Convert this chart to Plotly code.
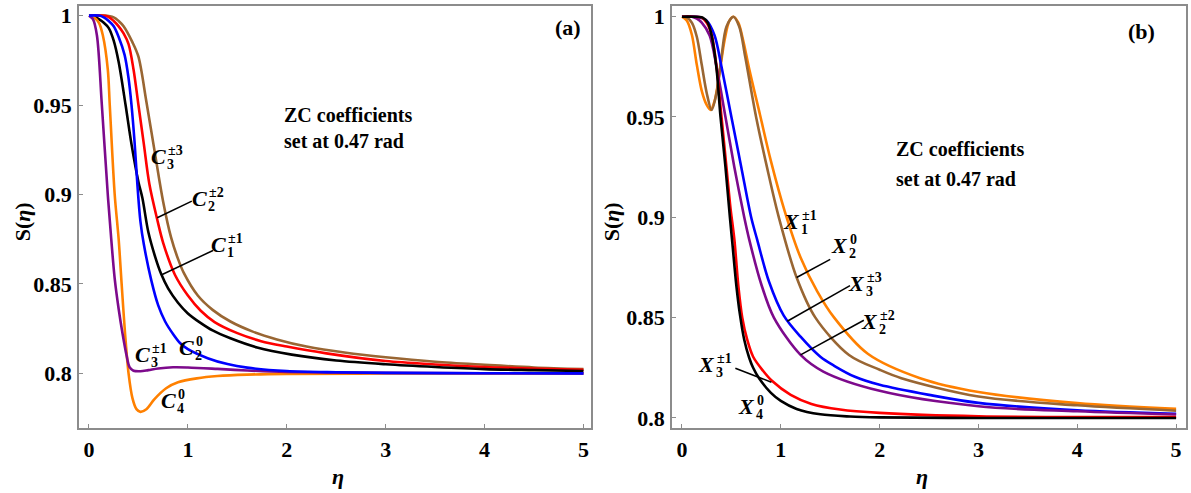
import plotly.graph_objects as go

# ---------------- Panel (a) data ----------------
eta_a_purple = [0, 0.04, 0.08, 0.13, 0.19, 0.225, 0.26, 0.30, 0.34, 0.38, 0.41, 0.45, 0.52, 0.6, 0.7, 0.85, 1.0, 1.3, 1.6, 2.0, 3.0, 4.0, 5.0]
s_a_purple   = [1, 0.998, 0.989, 0.95, 0.90, 0.875, 0.853, 0.836, 0.822, 0.81, 0.8035, 0.8015, 0.8012, 0.8018, 0.8027, 0.8034, 0.8033, 0.8025, 0.8016, 0.8008, 0.8003, 0.8001, 0.8]

eta_a_orange = [0, 0.05, 0.1, 0.14, 0.19, 0.21, 0.26, 0.30, 0.33, 0.365, 0.40, 0.44, 0.48, 0.52, 0.58, 0.66, 0.78, 0.9, 1.09, 1.3, 1.6, 2.0, 3.0, 5.0]
s_a_orange   = [1, 0.999, 0.996, 0.989, 0.97, 0.95, 0.90, 0.875, 0.85, 0.822, 0.80, 0.786, 0.780, 0.7785, 0.780, 0.7855, 0.7917, 0.795, 0.7972, 0.7985, 0.7993, 0.7997, 0.7999, 0.8]

eta_a_black = [0, 0.05, 0.1, 0.15, 0.2, 0.25, 0.3, 0.37, 0.43, 0.5, 0.54, 0.6, 0.67, 0.73, 0.8, 0.9, 1.0, 1.12, 1.25, 1.43, 1.7, 2.05, 2.5, 3.0, 3.5, 4.0, 4.5, 5.0]
s_a_black   = [1, 0.9995, 0.998, 0.996, 0.993, 0.986, 0.974, 0.95, 0.928, 0.907, 0.898, 0.879, 0.865, 0.8555, 0.8475, 0.8395, 0.8335, 0.8285, 0.824, 0.8196, 0.8145, 0.8105, 0.8072, 0.8051, 0.8036, 0.8024, 0.8018, 0.8013]

eta_a_blue = [0, 0.1, 0.15, 0.2, 0.25, 0.30, 0.36, 0.40, 0.43, 0.46, 0.49, 0.52, 0.555, 0.63, 0.7, 0.77, 0.85, 0.92, 1.0, 1.2, 1.4, 1.6, 2.0, 2.5, 3.0, 4.0, 5.0]
s_a_blue   = [1, 1, 0.999, 0.997, 0.994, 0.988, 0.978, 0.965, 0.95, 0.93, 0.905, 0.885, 0.872, 0.852, 0.838, 0.829, 0.822, 0.817, 0.8135, 0.8085, 0.8052, 0.8032, 0.8013, 0.8006, 0.8003, 0.8001, 0.8]

eta_a_red = [0, 0.1, 0.19, 0.25, 0.30, 0.35, 0.40, 0.45, 0.50, 0.555, 0.61, 0.69, 0.75, 0.87, 1.0, 1.13, 1.27, 1.5, 1.74, 2.0, 2.4, 3.0, 3.5, 4.0, 5.0]
s_a_red   = [1, 1, 0.9995, 0.997, 0.994, 0.99, 0.984, 0.97, 0.95, 0.928, 0.906, 0.886, 0.873, 0.855, 0.8435, 0.835, 0.8287, 0.8225, 0.818, 0.815, 0.8112, 0.8069, 0.805, 0.8036, 0.802]

eta_a_brown = [0, 0.15, 0.25, 0.30, 0.35, 0.44, 0.5, 0.58, 0.67, 0.75, 0.83, 0.9, 0.96, 1.1, 1.25, 1.43, 1.65, 1.9, 2.2, 2.6, 3.0, 3.5, 4.0, 4.5, 5.0]
s_a_brown   = [1, 1, 0.999, 0.997, 0.994, 0.985, 0.977, 0.952, 0.922, 0.896, 0.876, 0.864, 0.856, 0.8435, 0.8355, 0.829, 0.8235, 0.819, 0.815, 0.8115, 0.809, 0.8065, 0.8048, 0.8033, 0.8024]

# ---------------- Panel (b) data ----------------
eta_b_orange = [0, 0.05, 0.1, 0.15, 0.2, 0.25, 0.29, 0.33, 0.38, 0.43, 0.48, 0.52, 0.57, 0.62, 0.68, 0.79, 0.9, 1.04, 1.2, 1.37, 1.54, 1.88, 2.41, 3.0, 4.0, 5.0]
s_b_orange   = [1, 0.998, 0.991, 0.976, 0.963, 0.956, 0.9535, 0.958, 0.972, 0.988, 0.998, 1.0, 0.997, 0.988, 0.974, 0.951, 0.928, 0.903, 0.88, 0.863, 0.85, 0.832, 0.8198, 0.8129, 0.8074, 0.8045]

eta_b_brown = [0, 0.05, 0.1, 0.15, 0.2, 0.25, 0.3, 0.35, 0.4, 0.45, 0.52, 0.58, 0.64, 0.75, 0.86, 0.98, 1.16, 1.35, 1.69, 2.0, 2.22, 3.0, 4.0, 5.0]
s_b_brown   = [1, 0.9995, 0.997, 0.99, 0.976, 0.962, 0.9535, 0.962, 0.98, 0.995, 1.0, 0.995, 0.98, 0.95, 0.925, 0.9, 0.870, 0.85, 0.8314, 0.824, 0.8198, 0.8107, 0.8063, 0.8036]

eta_b_blue = [0, 0.15, 0.25, 0.33, 0.4, 0.5, 0.6, 0.70, 0.76, 0.88, 1.03, 1.2, 1.4, 1.54, 1.75, 2.0, 2.5, 3.0, 4.0, 5.0]
s_b_blue   = [1, 1, 0.998, 0.9906, 0.975, 0.95, 0.925, 0.9, 0.889, 0.868, 0.851, 0.8405, 0.8305, 0.826, 0.8205, 0.8165, 0.8115, 0.8075, 0.8038, 0.8021]

eta_b_purple = [0, 0.1, 0.15, 0.2, 0.28, 0.35, 0.44, 0.53, 0.63, 0.68, 0.8, 0.93, 1.2, 1.43, 2.0, 3.0, 4.0, 5.0]
s_b_purple   = [1, 1, 0.999, 0.997, 0.9906, 0.975, 0.95, 0.925, 0.9, 0.889, 0.867, 0.85, 0.8314, 0.8231, 0.8135, 0.8058, 0.8033, 0.8017]

eta_b_red = [0, 0.1, 0.2, 0.25, 0.3, 0.35, 0.40, 0.45, 0.49, 0.53, 0.57, 0.61, 0.66, 0.72, 0.82, 0.91, 1.1, 1.31, 1.6, 2.0, 3.0, 5.0]
s_b_red   = [1, 1, 0.9995, 0.997, 0.991, 0.975, 0.95, 0.925, 0.905, 0.889, 0.866, 0.85, 0.839, 0.8305, 0.8235, 0.8185, 0.8115, 0.807, 0.8042, 0.8025, 0.8008, 0.8005]

eta_b_black = [0, 0.1, 0.21, 0.26, 0.3, 0.35, 0.39, 0.44, 0.485, 0.51, 0.55, 0.585, 0.63, 0.68, 0.72, 0.78, 0.9, 1.0, 1.16, 1.4, 1.7, 2.0, 3.0, 5.0]
s_b_black   = [1, 1, 0.9995, 0.997, 0.9906, 0.9739, 0.95, 0.925, 0.9, 0.887, 0.866, 0.852, 0.839, 0.83, 0.825, 0.8198, 0.8125, 0.8085, 0.8045, 0.8018, 0.8007, 0.8003, 0.8, 0.8]

# ---------------- tick labels ----------------
x_ticks = [0, 1, 2, 3, 4, 5]
y_ticks = [0.8, 0.85, 0.9, 0.95, 1.0]
y_tick_text = ["0.8", "0.85", "0.9", "0.95", "1"]

# curve labels: (letter, sub, sup, x, y)
labels_a = [
    ("C", "3", "±3", 0.80, 0.921),
    ("C", "2", "±2", 1.215, 0.898),
    ("C", "1", "±1", 1.41, 0.872),
    ("C", "3", "±1", 0.635, 0.8105),
    ("C", "2", "0", 1.08, 0.8142),
    ("C", "4", "0", 0.90, 0.785),
]
labels_b = [
    ("X", "1", "±1", 1.21, 0.898),
    ("X", "2", "0", 1.70, 0.886),
    ("X", "3", "±3", 1.875, 0.867),
    ("X", "2", "±2", 2.0, 0.848),
    ("X", "3", "±1", 0.35, 0.8264),
    ("X", "4", "0", 0.76, 0.8058),
]
# leader lines (x0, y0, x1, y1)
leaders_a = [(0.69, 0.887, 1.04, 0.8963), (0.73, 0.855, 1.254, 0.8687)]
leaders_b = [(1.16, 0.870, 1.50, 0.879), (1.065, 0.8482, 1.70, 0.866),
             (1.2, 0.8314, 1.84, 0.8487), (0.54, 0.8248, 0.905, 0.8178)]

PURPLE = "#7d0a8c"
ORANGE = "#ff8000"
BROWN = "#996633"
RED = "#ff0000"
BLUE = "#0000ff"
BLACK = "#000000"
SERIF = "Liberation Serif, Times New Roman, serif"

fig = go.Figure()

def add(x, y, color, xa, ya):
    fig.add_trace(go.Scatter(x=x, y=y, mode="lines", xaxis=xa, yaxis=ya,
                             line=dict(color=color, width=2.6, shape="spline", smoothing=0.9),
                             showlegend=False, hoverinfo="skip"))

add(eta_a_brown, s_a_brown, BROWN, "x", "y")
add(eta_a_red, s_a_red, RED, "x", "y")
add(eta_a_black, s_a_black, BLACK, "x", "y")
add(eta_a_orange, s_a_orange, ORANGE, "x", "y")
add(eta_a_purple, s_a_purple, PURPLE, "x", "y")
add(eta_a_blue, s_a_blue, BLUE, "x", "y")

add(eta_b_orange, s_b_orange, ORANGE, "x2", "y2")
add(eta_b_brown, s_b_brown, BROWN, "x2", "y2")
add(eta_b_blue, s_b_blue, BLUE, "x2", "y2")
add(eta_b_purple, s_b_purple, PURPLE, "x2", "y2")
add(eta_b_red, s_b_red, RED, "x2", "y2")
add(eta_b_black, s_b_black, BLACK, "x2", "y2")

axis_common = dict(showline=True, mirror=True, linecolor="#8c8c8c", linewidth=1.5,
                   showgrid=False, zeroline=False, ticks="inside", ticklen=4,
                   tickcolor="#8c8c8c", tickwidth=1,
                   tickfont=dict(family=SERIF, size=22, color="black", weight="bold"))

ydom = [1 - 430 / 493, 1 - 3.5 / 493]
fig.update_layout(
    width=1191, height=493,
    margin=dict(l=0, r=0, t=0, b=0),
    paper_bgcolor="white", plot_bgcolor="white",
    xaxis=dict(domain=[79 / 1191, 591 / 1191], range=[-0.101, 5.076], tickvals=x_ticks,
               ticklabelstandoff=1, anchor="y", **axis_common),
    yaxis=dict(domain=ydom, range=[0.7696, 1.0051], tickvals=y_ticks, ticktext=y_tick_text,
               ticklabelstandoff=1, anchor="x", **axis_common),
    xaxis2=dict(domain=[672 / 1191, 1186 / 1191], range=[-0.101, 5.1], tickvals=x_ticks,
                ticklabelstandoff=1, anchor="y2", **axis_common),
    yaxis2=dict(domain=ydom, range=[0.7951, 1.0051], tickvals=y_ticks, ticktext=y_tick_text,
                ticklabelstandoff=1, anchor="x2", **axis_common),
)

ann = []

def label(letter, sub, sup, x, y, xr, yr):
    ann.append(dict(x=x, y=y, xref=xr, yref=yr, text="<b><i>%s</i></b>" % letter,
                    showarrow=False, xanchor="right", yanchor="middle",
                    font=dict(family=SERIF, size=22, color="black")))
    ann.append(dict(x=x, y=y, xref=xr, yref=yr, text="<b>%s</b>" % sup, yshift=6, xshift=-2,
                    showarrow=False, xanchor="left", yanchor="middle",
                    font=dict(family=SERIF, size=14, color="black")))
    ann.append(dict(x=x, y=y, xref=xr, yref=yr, text="<b>%s</b>" % sub, yshift=-8, xshift=-3,
                    showarrow=False, xanchor="left", yanchor="middle",
                    font=dict(family=SERIF, size=14, color="black")))

for l in labels_a:
    label(*l, "x", "y")
for l in labels_b:
    label(*l, "x2", "y2")

shapes = []
for (x0, y0, x1, y1) in leaders_a:
    shapes.append(dict(type="line", x0=x0, y0=y0, x1=x1, y1=y1, xref="x", yref="y",
                       line=dict(color="black", width=1.5)))
for (x0, y0, x1, y1) in leaders_b:
    shapes.append(dict(type="line", x0=x0, y0=y0, x1=x1, y1=y1, xref="x2", yref="y2",
                       line=dict(color="black", width=1.5)))

# ZC text
for (xr, yr, x, y1, y2) in [("x", "y", 1.95, 0.9445, 0.930), ("x2", "y2", 2.145, 0.934, 0.919)]:
    ann.append(dict(x=x, y=y1, xref=xr, yref=yr, text="<b>ZC coefficients</b>", showarrow=False,
                    xanchor="left", yanchor="middle", font=dict(family=SERIF, size=20, color="black")))
    ann.append(dict(x=x, y=y2, xref=xr, yref=yr, text="<b>set at 0.47 rad</b>", showarrow=False,
                    xanchor="left", yanchor="middle", font=dict(family=SERIF, size=20, color="black")))

# panel tags
ann.append(dict(x=568 / 1191, y=1 - 25 / 493, xref="paper", yref="paper", text="<b>(a)</b>",
                showarrow=False, xanchor="center", yanchor="middle",
                font=dict(family=SERIF, size=22, color="black")))
ann.append(dict(x=1141 / 1191, y=1 - 29 / 493, xref="paper", yref="paper", text="<b>(b)</b>",
                showarrow=False, xanchor="center", yanchor="middle",
                font=dict(family=SERIF, size=22, color="black")))

# axis titles
for px in [22, 611]:
    ann.append(dict(x=px / 1191, y=1 - 222 / 493, xref="paper", yref="paper",
                    text="<b>S(<i>η</i>)</b>", textangle=-90, showarrow=False,
                    xanchor="center", yanchor="middle",
                    font=dict(family=SERIF, size=22, color="black")))
for px in [338, 922]:
    ann.append(dict(x=px / 1191, y=1 - 479 / 493, xref="paper", yref="paper",
                    text="<b><i>η</i></b>", showarrow=False,
                    xanchor="center", yanchor="middle",
                    font=dict(family=SERIF, size=22, color="black")))

fig.update_layout(annotations=ann, shapes=shapes)
fig.write_html("out.html", config={"displayModeBar": False},
               post_script="document.body.style.margin='0';document.body.style.overflow='hidden';")
